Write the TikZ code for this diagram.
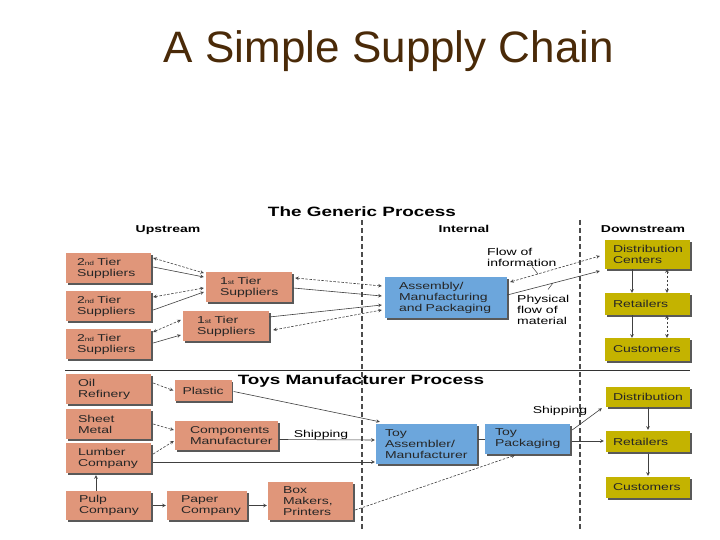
\documentclass[tikz,border=0pt]{standalone}
\usepackage{fontspec}
\setmainfont{Liberation Sans}
\newfontfamily\chartfont[FakeStretch=1.4]{Liberation Sans}
\usetikzlibrary{shadows,arrows}

\definecolor{titlebrown}{HTML}{4A2A08}
\definecolor{supcol}{HTML}{E0967A}
\definecolor{intcol}{HTML}{6CA6DC}
\definecolor{dncol}{HTML}{C4B300}

\newcommand{\nd}{{\fontsize{6}{6}\selectfont nd}}
\newcommand{\st}{{\fontsize{6}{6}\selectfont st}}

\begin{document}
\begin{tikzpicture}[x=1pt,y=-1pt,>=stealth,
  every node/.style={font=\chartfont\fontsize{10}{11}\selectfont},
  % text width, height, left padding
  sz/.style n args={3}{text width=#1pt,minimum height=#2pt,inner xsep=#3pt},
  boxbase/.style={align=left,inner ysep=2pt,text=black!85,
    drop shadow={shadow xshift=1.5pt,shadow yshift=-1.5pt,fill=black!65,opacity=1}},
  supbox/.style={boxbase,fill=supcol},
  intbox/.style={boxbase,fill=intcol},
  dnbox/.style={boxbase,fill=dncol},
  head/.style={font=\chartfont\fontsize{13.5}{14}\selectfont\bfseries,anchor=base},
  subhead/.style={font=\chartfont\fontsize{10}{11}\selectfont\bfseries,anchor=base},
  flow/.style={->,draw=black!75,line width=0.6pt},
  info/.style={<->,draw=black!75,line width=0.6pt,dash pattern=on 2.5pt off 1.5pt},
  info1/.style={->,draw=black!75,line width=0.6pt,dash pattern=on 2.5pt off 1.5pt},
  divider/.style={draw=black!70,line width=1.2pt,dash pattern=on 5pt off 3pt}]

  \useasboundingbox[fill=white] (0,0) rectangle (720,540);

  % title
  \node[font=\fontsize{44}{46}\selectfont,text=titlebrown,anchor=base] (title) at (389,63) {A Simple Supply Chain};

  % dividers
  \draw[divider] (362,220) -- (362,530);
  \draw[divider] (580,220) -- (580,530);
  \draw[draw=black!80,line width=1pt] (65,370) -- (690,370);

  % generic process
  \node[head] (generic) at (362,216) {The Generic Process};
  \node[subhead] (up) at (168,233) {Upstream};
  \node[subhead] (in) at (464,233) {Internal};
  \node[subhead] (down) at (643,233) {Downstream};

  \node[supbox,sz={63}{30}{11}] (s2a) at (108.5,268) {2\nd~Tier\\Suppliers};
  \node[supbox,sz={63}{30}{11}] (s2b) at (108.5,306) {2\nd~Tier\\Suppliers};
  \node[supbox,sz={63}{30}{11}] (s2c) at (108.5,344) {2\nd~Tier\\Suppliers};
  \node[supbox,sz={58}{30}{14}] (s1a) at (249,287) {1\st~Tier\\Suppliers};
  \node[supbox,sz={58}{30}{14}] (s1b) at (226,326) {1\st~Tier\\Suppliers};
  \node[intbox,sz={94}{41}{14}] (asm) at (446,297.5) {Assembly/\\Manufacturing\\and~Packaging};
  \node[dnbox,sz={69}{29}{8}] (dc) at (647.5,254.5) {Distribution\\Centers};
  \node[dnbox,sz={69}{22}{8}] (ret) at (647.5,304) {Retailers};
  \node[dnbox,sz={69}{23}{8}] (cus) at (647.5,349.5) {Customers};

  \node[anchor=west,align=left,inner sep=0pt] (finfo) at (487,257) {Flow~of\\information};
  \node[anchor=west,align=left,inner sep=0pt] (fmat) at (517,310) {Physical\\flow~of\\material};

  \draw[info] ([xshift=2pt,yshift=10pt]s2a.east) -- ([xshift=-2pt,yshift=14pt]s1a.west);
  \draw[flow] ([xshift=2pt,yshift=1pt]s2a.east) -- ([xshift=-2pt,yshift=10pt]s1a.west);
  \draw[info] ([xshift=2pt,yshift=9pt]s2b.east) -- ([xshift=-2pt,yshift=-1pt]s1a.west);
  \draw[flow] ([xshift=2pt,yshift=-4pt]s2b.east) -- ([xshift=-2pt,yshift=-5pt]s1a.west);
  \draw[info] ([xshift=2pt,yshift=12pt]s2c.east) -- ([xshift=-2pt,yshift=6pt]s1b.west);
  \draw[flow] ([xshift=2pt,yshift=1pt]s2c.east) -- ([xshift=-2pt,yshift=-9pt]s1b.west);
  \draw[info] ([xshift=3pt,yshift=9pt]s1a.east) -- ([xshift=-3pt,yshift=11.5pt]asm.west);
  \draw[flow] ([xshift=1pt,yshift=-1pt]s1a.east) -- ([xshift=-3pt,yshift=1.5pt]asm.west);
  \draw[flow] ([yshift=9pt]s1b.east) -- ([xshift=-3pt,yshift=-7.5pt]asm.west);
  \draw[info] ([xshift=4pt,yshift=-4pt]s1b.east) -- ([xshift=-3pt,yshift=-12.5pt]asm.west);
  \draw[info] ([xshift=3pt,yshift=15.5pt]asm.east) -- ([xshift=-5pt,yshift=-1.5pt]dc.west);
  \draw[flow] ([yshift=2.5pt]asm.east) -- ([xshift=-5pt,yshift=-16.5pt]dc.west);

  \coordinate (infoend) at (532,266.5);
  \coordinate (infotip) at (538,274);
  \coordinate (matend) at (548,289.5);
  \coordinate (mattip) at (553,283);
  \draw[draw=black!75,line width=0.5pt] (infoend) -- (infotip);
  \draw[draw=black!75,line width=0.5pt] (matend) -- (mattip);

  \draw[flow] ([xshift=-15.5pt]dc.south) -- ([xshift=-15.5pt]ret.north);
  \draw[info] ([xshift=19.5pt]dc.south) -- ([xshift=19.5pt]ret.north);
  \draw[flow] ([xshift=-15.5pt]ret.south) -- ([xshift=-15.5pt]cus.north);
  \draw[info] ([xshift=19.5pt]ret.south) -- ([xshift=19.5pt]cus.north);

  % toys manufacturer process
  \node[head] (toys) at (361,384.5) {Toys Manufacturer Process};

  \node[supbox,sz={61}{30}{12}] (oil) at (108.5,389) {Oil\\Refinery};
  \node[supbox,sz={61}{30}{12}] (sheet) at (108.5,424) {Sheet\\Metal};
  \node[supbox,sz={61}{30}{12}] (lumber) at (108.5,458) {Lumber\\Company};
  \node[supbox,sz={59}{29}{13}] (pulp) at (108.5,505.5) {Pulp\\Company};
  \node[supbox,sz={41}{21}{8}] (plastic) at (203,390.5) {Plastic};
  \node[supbox,sz={73}{29}{15}] (comp) at (226.5,435.5) {Components\\Manufacturer};
  \node[supbox,sz={52}{29}{14}] (paper) at (207,505.5) {Paper\\Company};
  \node[supbox,sz={55}{38}{15}] (boxm) at (310.5,501) {Box\\Makers,\\Printers};
  \node[intbox,sz={83}{40}{9}] (toyasm) at (426.5,444) {Toy\\Assembler/\\Manufacturer};
  \node[intbox,sz={65}{30}{10}] (toypack) at (527.5,439) {Toy\\Packaging};
  \node[dnbox,sz={70}{20}{7}] (tdist) at (648,397) {Distribution};
  \node[dnbox,sz={70}{21}{7}] (tret) at (648,441.5) {Retailers};
  \node[dnbox,sz={70}{21}{7}] (tcus) at (648,487.5) {Customers};

  \node[anchor=base] (ship1) at (321,437) {Shipping};
  \node[anchor=base] (ship2) at (560,413) {Shipping};

  \draw[info1] ([xshift=2pt,yshift=6pt]oil.east) -- ([xshift=-1pt]plastic.west);
  \draw[flow] ([xshift=2pt,yshift=-1pt]plastic.east) -- ([xshift=4pt,yshift=2pt]toyasm.north west);
  \draw[info1] ([xshift=2pt]sheet.east) -- ([xshift=-1pt,yshift=5.5pt]comp.west);
  \draw[info1] ([xshift=2pt,yshift=4pt]lumber.east) -- ([xshift=-1pt,yshift=-5.5pt]comp.west);
  \draw[flow] ([xshift=1pt,yshift=-4pt]comp.east) -- ([xshift=-1pt,yshift=4pt]toyasm.west);
  \draw[flow] ([xshift=2pt,yshift=-4pt]lumber.east) -- ([xshift=-1pt,yshift=-18pt]toyasm.west);
  \draw[flow] ([xshift=-12.5pt]pulp.north) -- ([xshift=-12.5pt,yshift=-2pt]lumber.south);
  \draw[flow] ([xshift=2pt]pulp.east) -- ([xshift=-1pt]paper.west);
  \draw[flow] ([xshift=2pt]paper.east) -- ([xshift=-1pt]paper.east -| boxm.west);
  \draw[info1] ([xshift=2pt,yshift=-9pt]boxm.east) -- ([xshift=-12.5pt,yshift=-1pt]toypack.south);
  \draw[draw=black!75,line width=0.6pt] ([xshift=1pt]toypack.west -| toyasm.east) -- (toypack.west);
  \draw[flow] ([xshift=2pt,yshift=9pt]toypack.east) -- ([xshift=-4pt,yshift=-1pt]tdist.south west);
  \draw[flow] ([xshift=2pt,yshift=-2pt]toypack.east) -- ([xshift=-2pt,yshift=-2pt]toypack.east -| tret.west);
  \draw[flow] (tdist.south) -- ([yshift=1pt]tret.north);
  \draw[flow] ([yshift=-1.5pt]tret.south) -- ([yshift=1pt]tcus.north);

\end{tikzpicture}
\end{document}
